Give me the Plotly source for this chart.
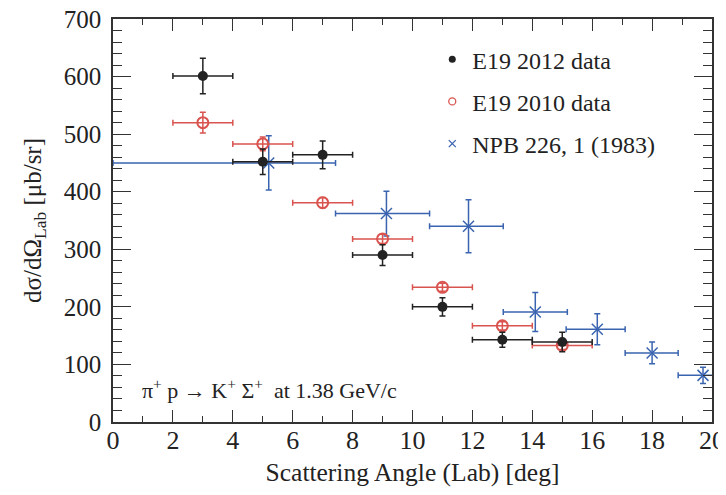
import plotly.graph_objects as go

# E19 2012 data (black filled circles)
x12 = [3, 5, 7, 9, 11, 13, 15]
y12 = [601, 452, 464, 290, 200, 143, 139]
ey12 = [31, 22, 24, 18, 16, 13, 17]
ex12 = [1, 1, 1, 1, 1, 1, 1]

# E19 2010 data (red open circles)
x10 = [3, 5, 7, 9, 11, 13, 15]
y10 = [520, 483, 381, 318, 234, 167, 133]
ey10 = [18, 12, 9, 8, 7, 7, 7]
ex10 = [1, 1, 1, 1, 1, 1, 1]

# NPB 226, 1 (1983) (blue crosses)
x83 = [5.2, 9.13, 11.87, 14.1, 16.17, 18.0, 19.7]
y83 = [450, 362, 340, 191, 161, 120, 81]
ey83 = [47, 39, 46, 34, 27, 19, 14]
ex83_minus = [5.2, 1.7, 1.3, 1.07, 1.04, 0.9, 0.83]
ex83_plus = [2.23, 1.44, 1.16, 1.07, 0.93, 0.87, 0.9]

FONT = "'Liberation Serif', 'Times New Roman', Times, serif"
BLACK = "#222222"
RED = "#d9534f"
BLUE = "#3a64b0"

fig = go.Figure()

fig.add_trace(go.Scatter(
    x=x83, y=y83, mode="markers", name="NPB 226, 1 (1983)", showlegend=False,
    marker=dict(symbol="x-thin", size=11, color=BLUE, line=dict(color=BLUE, width=1.5)),
    error_x=dict(type="data", symmetric=False, array=ex83_plus, arrayminus=ex83_minus,
                 color=BLUE, thickness=1.5, width=3),
    error_y=dict(type="data", array=ey83, color=BLUE, thickness=1.5, width=3),
))
fig.add_trace(go.Scatter(
    x=x10, y=y10, mode="markers", name="E19 2010 data", showlegend=False,
    marker=dict(symbol="circle-open", size=11, color=RED, line=dict(color=RED, width=2)),
    error_x=dict(type="data", array=ex10, color=RED, thickness=1.5, width=3),
    error_y=dict(type="data", array=ey10, color=RED, thickness=1.5, width=3),
))
fig.add_trace(go.Scatter(
    x=x12, y=y12, mode="markers", name="E19 2012 data", showlegend=False,
    marker=dict(symbol="circle", size=10, color=BLACK),
    error_x=dict(type="data", array=ex12, color=BLACK, thickness=1.5, width=3),
    error_y=dict(type="data", array=ey12, color=BLACK, thickness=1.5, width=3),
))

# legend proxies (small legend symbols, as in the reference)
fig.add_trace(go.Scatter(x=[None], y=[None], mode="markers", name="E19 2012 data",
                         legendgroup="a", legendrank=1,
                         marker=dict(symbol="circle", size=7, color=BLACK)))
fig.add_trace(go.Scatter(x=[None], y=[None], mode="markers", name="E19 2010 data",
                         legendgroup="b", legendrank=2,
                         marker=dict(symbol="circle-open", size=7, color=RED, line=dict(color=RED, width=1.3))))
fig.add_trace(go.Scatter(x=[None], y=[None], mode="markers", name="NPB 226, 1 (1983)",
                         legendgroup="c", legendrank=3,
                         marker=dict(symbol="x-thin", size=7, color=BLUE, line=dict(color=BLUE, width=1.3))))

axis_common = dict(
    showline=True, linecolor="#333333", linewidth=1.5, mirror="ticks",
    ticks="inside", tickcolor="#333333", showgrid=False, zeroline=False,
    automargin=False, ticklabeloverflow="allow",
)

fig.update_xaxes(
    range=[0, 20], dtick=2, tick0=0, ticklen=12, tickwidth=1.3,
    minor=dict(dtick=1, ticks="inside", ticklen=6, tickcolor="#333333", tickwidth=1.3),
    tickfont=dict(family=FONT, size=26, color="#222222"), ticklabelstandoff=-6,
    title=dict(text="Scattering Angle (Lab) [deg]", font=dict(family=FONT, size=25.5, color="#222222"), standoff=9),
    **axis_common,
)
fig.update_yaxes(
    range=[0, 700], dtick=100, tick0=0, ticklen=18, tickwidth=1.3,
    minor=dict(dtick=20, ticks="inside", ticklen=9, tickcolor="#333333", tickwidth=1.3),
    tickfont=dict(family=FONT, size=25, color="#222222"), ticklabelstandoff=5,
    title=dict(text="dσ/dΩ<sub>Lab</sub> [μb/sr]", font=dict(family=FONT, size=25, color="#222222"), standoff=15),
    **axis_common,
)

fig.add_annotation(
    x=0.045, y=0.081, xref="paper", yref="paper", xanchor="left", yanchor="middle",
    text="π<sup>+</sup> p → K<sup>+</sup> Σ<sup>+</sup>  at 1.38 GeV/c",
    showarrow=False, font=dict(family=FONT, size=22, color="#222222"),
)

# the page body has an 8px default margin: compensate so the plot area
# lands at the same place as in the reference
fig.update_layout(
    width=718, height=487,
    margin=dict(l=105, r=14, t=11, b=73),
    plot_bgcolor="white", paper_bgcolor="white",
    legend=dict(x=0.533, y=0.955, xanchor="left", yanchor="top",
                font=dict(family=FONT, size=24, color="#222222"),
                bgcolor="rgba(0,0,0,0)", tracegroupgap=8, itemsizing="trace"),
)

fig.write_html("out.html")
